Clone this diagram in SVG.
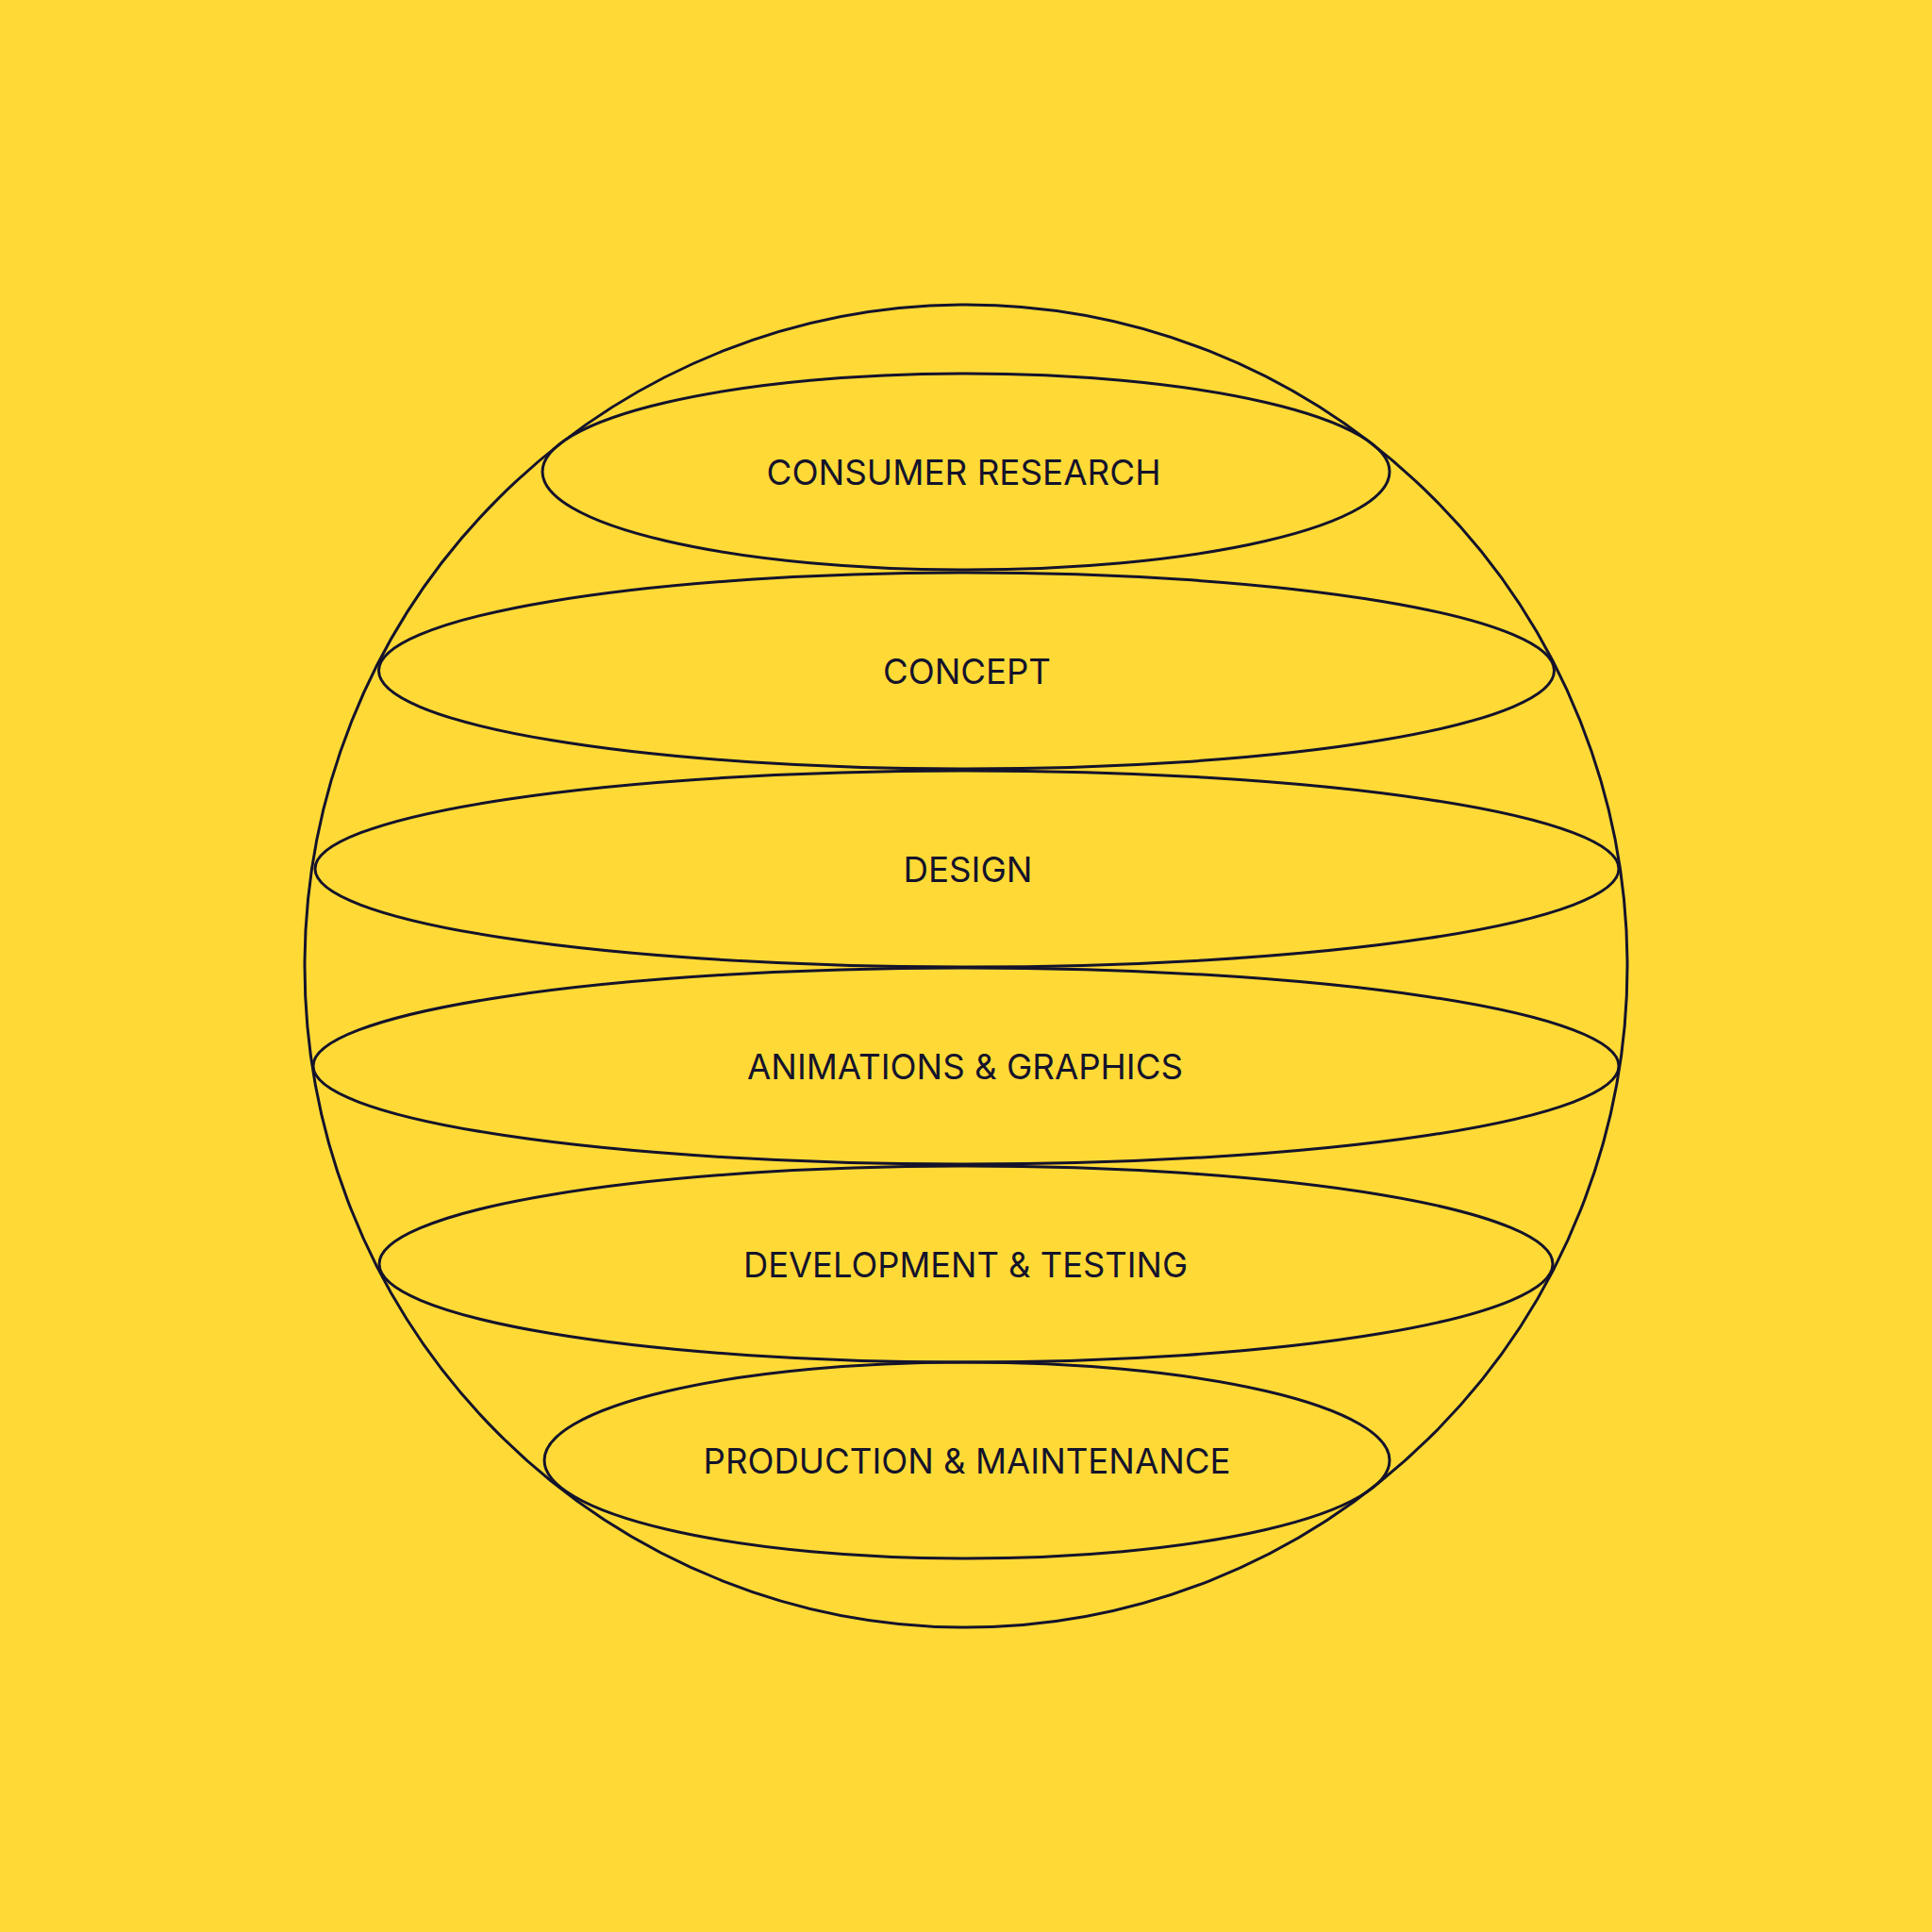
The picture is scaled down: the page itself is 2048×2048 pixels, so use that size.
<svg xmlns="http://www.w3.org/2000/svg" width="2048" height="2048" viewBox="0 0 2048 2048">
  <style>
    .ln { fill: none; stroke: #14132B; stroke-width: 3; }
    .lb { font-family: Inter, "Liberation Sans", sans-serif; font-size: 37px; font-weight: 400; fill: #14132B; text-anchor: middle; }
  </style>
  <rect x="0" y="0" width="2048" height="2048" fill="#FFDA36"/>
  <circle id="sphere" class="ln" cx="1024" cy="1024" r="701"/>
  <g id="consumer-research">
    <ellipse class="ln" cx="1024" cy="500" rx="449" ry="104"/>
    <text class="lb" x="1021.5" y="513.5" textLength="418" lengthAdjust="spacingAndGlyphs">CONSUMER RESEARCH</text>
  </g>
  <g id="concept">
    <ellipse class="ln" cx="1024.5" cy="711" rx="623" ry="104"/>
    <text class="lb" x="1025" y="724.5" textLength="178" lengthAdjust="spacingAndGlyphs">CONCEPT</text>
  </g>
  <g id="design">
    <ellipse class="ln" cx="1025" cy="921" rx="691" ry="104"/>
    <text class="lb" x="1026" y="934.5" textLength="137" lengthAdjust="spacingAndGlyphs">DESIGN</text>
  </g>
  <g id="animations-graphics">
    <ellipse class="ln" cx="1024" cy="1130" rx="692" ry="104"/>
    <text class="lb" x="1023" y="1143.5" textLength="462" lengthAdjust="spacingAndGlyphs">ANIMATIONS &amp; GRAPHICS</text>
  </g>
  <g id="development-testing">
    <ellipse class="ln" cx="1024" cy="1340" rx="622" ry="104"/>
    <text class="lb" x="1023.5" y="1354" textLength="471" lengthAdjust="spacingAndGlyphs">DEVELOPMENT &amp; TESTING</text>
  </g>
  <g id="production-maintenance">
    <ellipse class="ln" cx="1025" cy="1548" rx="448" ry="104"/>
    <text class="lb" x="1025" y="1561.5" textLength="559" lengthAdjust="spacingAndGlyphs">PRODUCTION &amp; MAINTENANCE</text>
  </g>
  <g id="connectors"/>
</svg>
